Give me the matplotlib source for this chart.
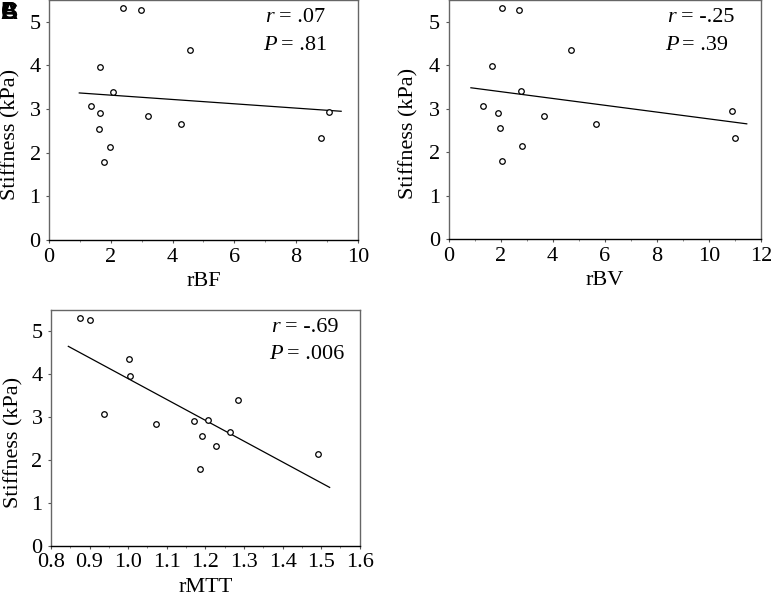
import numpy as np
import matplotlib
matplotlib.use("Agg")
import matplotlib.pyplot as plt
from matplotlib.ticker import MultipleLocator

SERIF = "Liberation Serif"

# stiffness values (kPa), same patients in every panel
stiffness = [5.32, 5.26, 4.36, 3.97, 3.40, 3.07, 2.91, 2.84, 2.55, 2.65, 2.13, 1.79, 2.94, 2.33]

rbf = [2.40, 2.98, 4.56, 1.65, 2.07, 1.35, 1.66, 3.20, 1.63, 4.27, 1.96, 1.78, 9.07, 8.81]
rbv = [2.05, 2.69, 4.72, 1.66, 2.79, 1.33, 1.91, 3.67, 1.97, 5.66, 2.84, 2.07, 10.91, 10.99]
rmtt = [0.876, 0.901, 1.002, 1.005, 1.285, 0.938, 1.171, 1.071, 1.191, 1.265, 1.491, 1.185, 1.208, 1.227]

# regression line end points
fit_rbf_x, fit_rbf_y = [0.98, 9.46], [3.37, 2.95]
fit_rbv_x, fit_rbv_y = [0.86, 11.46], [3.48, 2.65]
fit_rmtt_x, fit_rmtt_y = [0.845, 1.522], [4.65, 1.36]

stats_rbf = (".07", ".81")
stats_rbv = ("-.25", ".39")
stats_rmtt = ("-.69", ".006")

y_ticks = [0, 1, 2, 3, 4, 5]

fig = plt.figure(figsize=(7.72, 5.97), dpi=100)

panels = [
    # x data, fit, stats, xlabel, xlim, major, minor, tick fmt, axes rect, text x, ylabel x
    (rbf, fit_rbf_x, fit_rbf_y, stats_rbf, "rBF", (0, 10), 2, 1, "{:.0f}",
     [0.0635, 0.598, 0.400, 0.402], 0.70, -0.094),
    (rbv, fit_rbv_x, fit_rbv_y, stats_rbv, "rBV", (0, 12), 2, 1, "{:.0f}",
     [0.581, 0.5997, 0.4045, 0.4003], 0.70, -0.095),
    (rmtt, fit_rmtt_x, fit_rmtt_y, stats_rmtt, "rMTT", (0.8, 1.6), 0.1, 0.05, "{:.1f}",
     [0.066, 0.0859, 0.400, 0.395], 0.714, -0.088),
]

for xs, fx, fy, st, xlab, xlim, maj, mnr, fmt, rect, tx, lx in panels:
    ax = fig.add_axes(rect)
    ax.plot(fx, fy, color="black", lw=0.9)
    ax.plot(xs, stiffness, "o", ms=4, mfc="white", mec="black", mew=0.9, ls="none")
    ax.set_xlim(*xlim)
    ax.set_ylim(0, 5.5)
    ax.xaxis.set_minor_locator(MultipleLocator(mnr))
    ticks = np.arange(xlim[0], xlim[1] + maj / 2, maj)
    ax.set_xticks(ticks)
    ax.set_xticklabels([fmt.format(t) for t in ticks], fontfamily=SERIF, fontsize=16)
    ax.set_yticks(y_ticks)
    ax.set_yticklabels([str(t) for t in y_ticks], fontfamily=SERIF, fontsize=16)
    ax.tick_params(axis="both", which="major", direction="out", length=2.5, width=0.8,
                   color="#555555")
    ax.tick_params(axis="x", which="major", pad=3)
    ax.tick_params(axis="y", which="major", pad=3.5)
    ax.tick_params(axis="both", which="minor", direction="out", length=1.5, width=0.6,
                   color="#777777")
    for s in ["top", "right", "left"]:
        ax.spines[s].set_color("#666666")
        ax.spines[s].set_linewidth(1.0)
    ax.spines["bottom"].set_color("black")
    ax.spines["bottom"].set_linewidth(1.0)
    ax.set_xlabel(xlab, fontsize=16, labelpad=4, fontfamily=SERIF)
    ax.set_ylabel("Stiffness (kPa)", fontsize=16, fontfamily=SERIF)
    ax.yaxis.set_label_coords(lx, 0.44)

    # italic r / P followed by the value in upright type
    t1 = ax.text(tx, 0.925, "r", transform=ax.transAxes, fontsize=16, style="italic",
                 fontfamily=SERIF, ha="left", va="center")
    ax.annotate("= " + st[0], xy=(1, 0), xycoords=t1, xytext=(3.5, 0),
                textcoords="offset points", fontsize=16, fontfamily=SERIF,
                ha="left", va="bottom")
    t2 = ax.text(tx - 0.008, 0.81, "P", transform=ax.transAxes, fontsize=16, style="italic",
                 fontfamily=SERIF, ha="left", va="center")
    ax.annotate("= " + st[1], xy=(1, 0), xycoords=t2, xytext=(3, 0),
                textcoords="offset points", fontsize=16, fontfamily=SERIF,
                ha="left", va="bottom")

# panel letters, stacked on the same spot as in the source
for letter in ["A", "B", "C"]:
    fig.text(0.001, 0.999, letter, fontsize=17, fontweight="bold", ha="left", va="top",
             fontfamily="Liberation Sans")

fig.savefig("out.png", dpi=100)
